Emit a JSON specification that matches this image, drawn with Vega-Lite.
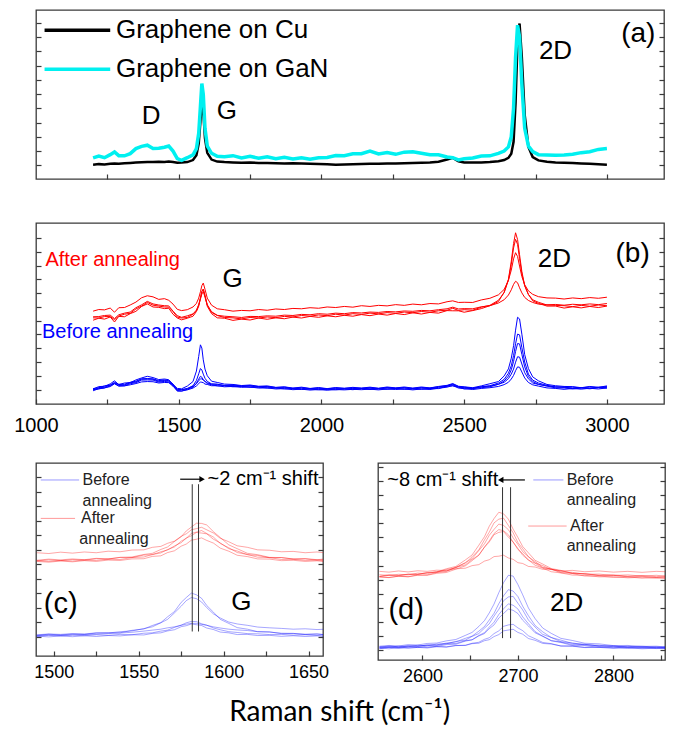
{
"$schema": "https://vega.github.io/schema/vega-lite/v6.json",
"padding": {"left": 13, "top": 9, "right": 4, "bottom": 2},
"background": "white",
"title": {"text": "Raman shift (cm⁻¹)", "orient": "bottom", "anchor": "middle", "font": "Lato", "fontSize": 28, "fontWeight": "normal", "color": "black", "offset": 13},
"config": {
  "view": {"stroke": "#3a3a3a", "strokeWidth": 1.3},
  "axis": {"grid": false, "domain": false, "tickColor": "#3a3a3a", "tickWidth": 1.2, "tickSize": -5, "labelFont": "Liberation Sans", "labelFontSize": 18, "labelColor": "black", "labelPadding": 12.5, "labelFlush": false},
  "text": {"font": "Liberation Sans", "color": "black"}
},
"spacing": 25,
"resolve": {"scale": {"color": "independent", "strokeWidth": "independent"}},
"vconcat": [
{
"width": 628, "height": 169,
"resolve": {"axis": {"y": "independent"}},
"layer": [
{
"data": {"values": [{
"x": [1200,1220,1240,1260,1275,1290,1310,1330,1350,1370,1390,1410,1430,1450,1465,1480,1495,1510,1530,1550,1562,1570,1576,1581,1586,1592,1600,1615,1635,1660,1690,1720,1750,1780,1810,1840,1870,1900,1930,1960,1990,2020,2050,2080,2110,2140,2170,2200,2230,2260,2290,2320,2350,2380,2410,2440,2460,2480,2500,2530,2560,2590,2620,2640,2655,2665,2673,2680,2687,2694,2702,2712,2725,2740,2760,2790,2820,2850,2880,2910,2940,2970,3000],
"Graphene on Cu": [8.5,8.8,8.6,9.0,9.2,9.0,9.3,9.5,9.7,9.9,10.1,10.0,10.2,10.1,10.3,10.0,9.6,9.7,10.0,11.2,14.0,21.0,34.0,45.5,40.0,24.0,15.5,11.5,10.3,10.0,9.8,9.6,9.7,9.5,9.4,9.3,9.2,9.3,9.1,9.0,8.9,8.7,8.5,8.6,8.7,8.9,9.0,9.0,9.1,9.2,9.3,9.4,9.6,9.8,10.2,11.5,12.5,10.5,9.8,9.7,9.8,10.0,10.5,11.2,12.5,15.0,22.0,45.0,82.0,92.0,72.0,38.0,19.0,13.0,11.0,10.2,9.8,9.6,9.4,9.2,9.0,8.7,8.4],
"Graphene on GaN": [12.5,13.6,12.6,14.4,16.0,13.8,13.7,15.0,18.0,19.3,20.0,18.0,18.2,18.8,19.5,16.5,12.0,11.0,12.6,14.3,18.0,27.0,43.0,56.5,50.0,30.0,19.5,15.2,13.4,13.2,13.8,12.5,13.4,12.3,13.1,12.0,12.8,11.8,12.6,11.7,12.6,12.7,13.9,13.8,14.9,15.0,16.5,14.8,15.7,14.6,15.9,16.1,15.2,14.3,14.3,13.0,12.6,11.3,12.0,12.4,13.6,13.7,15.2,16.5,19.0,25.0,42.0,72.0,91.0,84.0,56.0,30.0,19.5,16.2,14.4,14.2,14.1,14.2,14.6,15.6,16.1,17.5,18.0]
}]},
"transform": [{"flatten": ["x", "Graphene on Cu", "Graphene on GaN"]}, {"fold": ["Graphene on Cu", "Graphene on GaN"], "as": ["s", "y"]}],
"mark": {"type": "line", "clip": true},
"encoding": {
"x": {"field": "x", "type": "quantitative", "scale": {"domain": [1000, 3200], "nice": false, "zero": false}, "axis": {"title": null, "format": "d", "labelOpacity": 0, "labelFontSize": 14, "labelPadding": 8, "values": [1250,1500,1750,2000,2250,2500,2750,3000]}},
"y": {"field": "y", "type": "quantitative", "scale": {"domain": [0, 100], "nice": false, "zero": false}, "axis": {"orient": "left", "title": null, "labels": false, "values": [8,16.45,24.9,33.35,41.8,50.25,58.7,67.15,75.6,84.05,92.5]}},
"color": {"field": "s", "type": "nominal", "scale": {"domain": ["Graphene on Cu", "Graphene on GaN"], "range": ["#000000", "#00f0f0"]}, "legend": null},
"strokeWidth": {"field": "s", "type": "nominal", "scale": {"domain": ["Graphene on Cu", "Graphene on GaN"], "range": [2.5, 3.5]}, "legend": null}
}
},
{"data": {"values": [{}]}, "mark": {"type": "rule", "opacity": 0}, "encoding": {"y": {"datum": 50, "axis": {"orient": "right", "title": null, "labels": false, "values": [8,16.45,24.9,33.35,41.8,50.25,58.7,67.15,75.6,84.05,92.5]}}}},
{"data": {"values": [{}]}, "mark": {"type": "rule", "color": "#000000", "strokeWidth": 3.5}, "encoding": {"x": {"datum": 1030}, "x2": {"datum": 1260}, "y": {"datum": 88, "axis": null}}},
{"data": {"values": [{}]}, "mark": {"type": "rule", "color": "#00f0f0", "strokeWidth": 3.5}, "encoding": {"x": {"datum": 1030}, "x2": {"datum": 1260}, "y": {"datum": 65, "axis": null}}},
{"data": {"values": [{}]}, "mark": {"type": "text", "text": "Graphene on Cu", "fontSize": 26, "align": "left"}, "encoding": {"x": {"datum": 1280}, "y": {"datum": 88, "axis": null}}},
{"data": {"values": [{}]}, "mark": {"type": "text", "text": "Graphene on GaN", "fontSize": 26, "align": "left"}, "encoding": {"x": {"datum": 1280}, "y": {"datum": 65, "axis": null}}},
{"data": {"values": [{}]}, "mark": {"type": "text", "text": "D", "fontSize": 26}, "encoding": {"x": {"datum": 1403}, "y": {"datum": 37.3, "axis": null}}},
{"data": {"values": [{}]}, "mark": {"type": "text", "text": "G", "fontSize": 26}, "encoding": {"x": {"datum": 1669}, "y": {"datum": 40, "axis": null}}},
{"data": {"values": [{}]}, "mark": {"type": "text", "text": "2D", "fontSize": 26}, "encoding": {"x": {"datum": 2820}, "y": {"datum": 76, "axis": null}}},
{"data": {"values": [{}]}, "mark": {"type": "text", "text": "(a)", "fontSize": 28}, "encoding": {"x": {"datum": 3110}, "y": {"datum": 86, "axis": null}}}
]
},
{
"width": 628, "height": 181,
"resolve": {"axis": {"y": "independent"}},
"layer": [
{
"data": {"values": [{
"x": [1200,1220,1240,1260,1275,1290,1310,1330,1350,1370,1390,1410,1430,1450,1465,1480,1495,1510,1530,1550,1562,1570,1576,1581,1586,1592,1600,1615,1635,1660,1690,1720,1750,1780,1810,1840,1870,1900,1930,1960,1990,2020,2050,2080,2110,2140,2170,2200,2230,2260,2290,2320,2350,2380,2410,2440,2460,2480,2500,2530,2560,2590,2620,2640,2655,2665,2673,2680,2687,2694,2702,2712,2725,2740,2760,2790,2820,2850,2880,2910,2940,2970,3000],
"rb1": [51.3,52.2,52.0,53.0,50.7,53.2,53.3,54.7,56.3,58.7,59.8,59.2,57.8,58.2,57.3,55.2,52.3,51.6,52.1,53.6,55.6,58.5,62.0,65.4,66.8,63.4,58.5,54.6,52.6,52.1,51.3,51.7,51.5,52.2,51.8,52.5,52.2,52.8,52.6,53.2,52.9,53.6,53.3,53.9,53.5,54.3,53.9,54.5,54.2,54.9,54.5,55.2,54.8,55.5,55.3,56.5,57.0,56.1,56.2,56.1,57.5,58.4,60.3,63.3,68.3,74.0,80.2,83.6,81.5,76.2,70.4,65.9,62.5,60.6,59.3,58.6,58.5,58.0,58.6,58.2,58.8,58.4,59.0],
"rb2": [46.3,47.4,46.9,48.1,45.3,48.4,48.2,49.9,51.2,53.9,55.3,53.6,53.4,52.7,52.9,49.6,47.5,46.5,47.4,48.5,51.1,54.0,58.4,62.2,63.5,59.8,54.0,49.9,47.6,47.4,46.2,46.9,46.4,47.5,46.8,47.6,47.1,48.0,47.5,48.4,47.9,48.7,48.2,49.0,48.5,49.4,48.8,49.7,49.1,50.0,49.4,50.4,49.7,50.6,50.2,51.6,51.5,51.5,50.7,51.6,52.7,54.3,56.6,61.8,68.9,78.9,88.7,94.6,90.9,82.5,73.2,65.4,60.5,57.0,55.6,54.1,54.1,53.0,53.7,53.1,53.9,53.3,54.1],
"rb3": [47.6,47.5,48.3,48.3,46.6,48.6,49.6,50.1,52.5,54.1,56.1,54.6,54.1,53.6,53.5,51.1,48.0,47.5,47.8,49.6,51.4,55.0,58.6,62.2,63.4,60.0,54.9,50.6,48.9,47.8,47.6,47.0,47.8,47.5,48.1,47.7,48.4,48.1,48.9,48.5,49.2,48.8,49.6,49.1,49.9,49.5,50.2,49.8,50.5,50.1,50.8,50.4,51.1,50.7,51.5,51.8,52.9,51.7,52.1,51.8,53.5,54.5,57.3,61.5,68.5,77.1,86.2,91.0,88.2,80.3,72.0,65.3,60.5,57.6,56.2,54.7,54.5,54.3,53.8,54.5,54.0,54.7,54.3],
"rb4": [48.2,48.3,48.9,49.1,47.2,49.3,50.2,50.8,53.2,54.8,56.7,55.3,54.7,54.3,54.2,51.3,48.8,47.9,48.7,49.8,51.9,54.6,57.9,60.7,62.1,59.0,54.6,51.0,49.0,48.5,48.2,47.8,48.4,48.3,48.7,48.5,49.1,48.9,49.5,49.3,49.9,49.6,50.2,49.9,50.5,50.3,50.8,50.6,51.1,50.9,51.4,51.2,51.7,51.5,52.1,52.6,53.5,52.5,52.7,52.6,53.7,54.3,55.8,57.6,60.2,63.1,66.1,67.8,67.0,64.2,61.4,58.9,57.2,56.1,55.2,54.8,55.0,54.6,55.1,54.8,55.3,54.9,55.5],
"bb1": [8.3,9.6,9.8,11.1,12.8,10.7,11.6,11.8,13.3,14.4,15.3,14.6,13.5,13.8,13.4,10.8,8.6,8.4,9.9,12.4,18.2,26.3,32.7,30.9,24.4,19.3,15.6,12.6,11.9,11.0,10.8,10.2,10.5,9.8,10.0,9.2,9.5,8.8,9.3,8.6,9.1,8.5,9.1,8.7,9.2,8.8,9.3,8.7,9.4,8.9,9.4,8.8,9.4,8.9,9.7,10.3,11.3,9.8,9.5,9.0,10.0,11.2,12.4,15.5,19.4,25.3,32.2,40.8,47.9,47.0,38.6,27.3,19.6,15.0,12.8,10.8,10.1,9.7,9.6,9.0,9.7,9.2,10.0],
"bb2": [7.8,8.9,9.3,10.5,11.6,10.7,10.5,11.7,12.2,13.7,13.8,13.7,12.5,13.0,12.6,10.6,7.6,7.8,8.6,10.1,13.0,16.7,19.6,18.8,16.5,14.2,12.5,11.1,10.9,10.1,10.2,9.7,9.9,9.3,9.4,8.8,9.0,8.4,8.7,8.2,8.5,8.1,8.5,8.3,8.6,8.4,8.7,8.3,8.8,8.5,8.8,8.3,8.8,8.5,9.2,9.8,10.7,9.3,9.0,8.5,9.5,10.1,11.6,13.6,17.0,21.1,26.8,33.3,38.6,38.2,31.2,23.2,16.5,13.2,11.6,10.3,9.4,9.4,8.6,9.1,8.7,9.3,9.0],
"bb3": [7.9,8.3,9.0,9.6,11.2,9.8,10.0,10.6,11.3,12.2,12.4,12.3,11.6,11.9,11.8,9.8,7.4,7.1,8.1,9.3,11.5,13.7,15.3,14.8,13.4,12.5,11.3,10.6,10.0,10.1,9.5,9.8,9.2,9.4,8.8,8.9,8.3,8.5,8.0,8.3,7.8,8.2,7.8,8.3,7.9,8.5,8.0,8.4,8.1,8.6,8.1,8.4,8.1,8.6,8.5,9.9,10.0,9.4,8.3,8.6,9.0,9.5,10.9,12.7,15.4,18.9,23.5,29.0,33.4,33.2,27.4,20.5,15.2,12.4,10.9,9.9,8.9,8.9,8.3,8.8,8.4,9.0,8.8],
"bb4": [8.5,9.0,10.0,10.4,12.0,10.9,10.9,12.0,12.6,13.9,14.1,13.9,12.9,13.3,12.9,11.0,8.0,8.0,8.4,9.8,11.2,12.9,13.8,13.9,13.2,12.5,11.7,11.0,10.9,10.3,10.5,10.0,10.2,9.6,9.7,9.1,9.3,8.7,9.0,8.5,8.8,8.4,8.8,8.6,8.9,8.7,9.0,8.6,9.1,8.8,9.1,8.6,9.1,8.8,9.5,10.1,11.0,9.6,9.3,8.8,9.5,9.9,10.9,12.0,14.0,16.5,19.3,23.1,26.1,25.9,22.1,17.3,13.9,11.6,10.8,10.0,9.5,9.2,9.3,8.9,9.4,9.1,9.7],
"bb5": [7.3,8.5,8.8,10.0,11.3,10.2,10.1,11.2,11.8,13.2,13.3,13.2,12.1,12.5,12.1,10.2,7.1,7.2,7.8,8.8,10.0,11.2,12.2,12.0,11.8,11.0,10.8,10.1,10.1,9.5,9.7,9.2,9.4,8.8,8.9,8.3,8.5,7.9,8.2,7.7,8.0,7.6,8.0,7.8,8.1,7.9,8.2,7.8,8.3,8.0,8.3,7.8,8.3,8.0,8.7,9.3,10.2,8.8,8.5,8.0,8.6,9.0,9.7,10.7,12.0,13.8,15.8,18.4,20.5,20.3,17.7,14.4,11.9,10.6,9.9,8.9,8.6,8.1,8.6,8.2,8.7,8.3,8.9]
}]},
"transform": [{"flatten": ["x","rb1","rb2","rb3","rb4","bb1","bb2","bb3","bb4","bb5"]}, {"fold": ["rb1","rb2","rb3","rb4","bb1","bb2","bb3","bb4","bb5"], "as": ["s", "y"]}],
"mark": {"type": "line", "strokeWidth": 1, "clip": true},
"encoding": {
"x": {"field": "x", "type": "quantitative", "scale": {"domain": [1000, 3200], "nice": false, "zero": false}, "axis": {"title": null, "format": "d", "labelFontSize": 20, "labelPadding": 16.5, "values": [1000,1250,1500,1750,2000,2250,2500,2750,3000], "labelExpr": "datum.value % 500 == 0 ? datum.label : ''"}},
"y": {"field": "y", "type": "quantitative", "scale": {"domain": [0, 100], "nice": false, "zero": false}, "axis": {"orient": "left", "title": null, "labels": false, "values": [7.8,15.4,23.1,30.7,38.4,46,53.6,61.3,68.9,76.5,84.2,91.8]}},
"color": {"field": "s", "type": "nominal", "scale": {"domain": ["rb1","rb2","rb3","rb4","bb1","bb2","bb3","bb4","bb5"], "range": ["#ff0000","#ff0000","#ff0000","#ff0000","#0000ff","#0000ff","#0000ff","#0000ff","#0000ff"]}, "legend": null}
}
},
{"data": {"values": [{}]}, "mark": {"type": "rule", "opacity": 0}, "encoding": {"y": {"datum": 50, "axis": {"orient": "right", "title": null, "labels": false, "values": [7.8,15.4,23.1,30.7,38.4,46,53.6,61.3,68.9,76.5,84.2,91.8]}}}},
{"data": {"values": [{}]}, "mark": {"type": "text", "text": "After annealing", "fontSize": 20, "align": "left", "color": "#ff0000"}, "encoding": {"x": {"datum": 1033}, "y": {"datum": 79.8, "axis": null}}},
{"data": {"values": [{}]}, "mark": {"type": "text", "text": "Before annealing", "fontSize": 20, "align": "left", "color": "#0000ff"}, "encoding": {"x": {"datum": 1021}, "y": {"datum": 39.8, "axis": null}}},
{"data": {"values": [{}]}, "mark": {"type": "text", "text": "G", "fontSize": 26}, "encoding": {"x": {"datum": 1689}, "y": {"datum": 69, "axis": null}}},
{"data": {"values": [{}]}, "mark": {"type": "text", "text": "2D", "fontSize": 26}, "encoding": {"x": {"datum": 2816}, "y": {"datum": 80, "axis": null}}},
{"data": {"values": [{}]}, "mark": {"type": "text", "text": "(b)", "fontSize": 28}, "encoding": {"x": {"datum": 3090}, "y": {"datum": 82.7, "axis": null}}}
]
},
{
"spacing": 46,
"resolve": {"scale": {"color": "independent"}},
"hconcat": [
{
"width": 287, "height": 193,
"resolve": {"axis": {"y": "independent"}},
"layer": [
{
"data": {"values": [{
"x": [1490,1497,1504,1511,1518,1525,1532,1539,1546,1553,1558,1563,1567,1571,1575,1578,1581,1584,1587,1590,1594,1598,1603,1608,1614,1620,1627,1634,1641,1648,1655,1660],
"cb1": [10.7,11.3,10.9,11.4,11.2,11.9,12.1,12.0,13.3,14.0,15.8,17.3,20.3,23.0,27.8,30.3,32.6,31.7,29.9,26.2,22.7,19.0,16.9,14.7,13.9,12.6,12.5,11.6,11.7,11.1,11.4,11.0],
"cb2": [11.0,11.4,11.2,11.6,11.4,12.0,11.9,12.6,13.0,14.2,15.1,17.2,19.0,22.3,25.8,28.7,30.3,29.7,28.0,25.1,21.8,19.7,17.6,16.6,15.9,15.0,14.6,14.3,13.9,14.1,13.7,13.9],
"cb3": [10.2,10.7,10.4,10.8,10.5,11.0,10.7,11.2,11.0,11.8,12.0,12.9,13.4,14.8,16.0,17.2,17.9,17.8,16.7,16.0,14.5,13.6,12.6,12.2,11.6,11.5,11.1,11.2,10.8,11.0,10.6,10.9],
"cb4": [10.3,9.9,10.4,10.0,10.5,10.1,10.6,10.4,11.0,10.9,11.7,12.0,13.0,13.6,15.2,15.7,16.6,16.2,15.8,14.5,13.7,12.4,12.0,11.1,11.2,10.6,10.7,10.2,10.5,10.1,10.4,10.0],
"cb5": [10.5,10.9,10.7,11.0,11.1,11.3,11.6,11.9,12.3,12.9,13.4,13.9,14.6,15.1,15.9,16.5,16.9,16.9,16.4,15.9,15.1,14.5,13.9,13.5,13.2,12.6,12.4,11.8,11.7,11.3,11.4,11.0],
"cr1": [53.5,53.1,53.8,53.3,53.9,53.5,54.3,54.0,54.9,55.0,56.3,56.8,58.4,59.5,62.0,63.3,65.4,66.0,66.7,65.4,63.7,61.0,59.2,57.1,56.3,55.0,54.8,54.0,54.2,53.5,53.9,53.4],
"cr2": [49.3,49.8,49.4,50.0,49.7,50.4,50.2,51.1,51.3,52.6,53.2,55.2,56.5,59.3,61.8,64.8,66.8,68.8,68.7,67.9,64.4,61.4,57.6,55.6,53.2,52.5,51.1,51.0,50.2,50.3,49.7,50.0],
"cr3": [49.6,50.2,49.8,50.3,49.9,50.6,50.3,51.1,51.0,52.3,52.5,54.0,54.9,57.0,58.7,61.1,62.3,64.0,63.7,63.3,60.5,58.6,55.6,54.4,52.5,52.1,50.9,51.0,50.3,50.5,49.9,50.3],
"cr4": [49.0,48.6,49.2,48.8,49.4,49.0,49.7,49.5,50.3,50.4,51.6,51.9,53.6,54.5,56.9,58.0,60.0,60.5,61.2,59.9,58.5,55.9,54.3,52.2,51.5,50.3,50.2,49.4,49.6,49.0,49.3,48.8],
"cr5": [49.4,49.0,49.5,49.2,49.7,49.5,50.2,50.0,51.0,51.3,52.6,53.4,55.2,56.5,59.5,61.0,63.5,64.2,65.0,63.5,61.6,58.3,56.1,53.6,52.6,51.2,51.0,50.0,50.1,49.5,49.7,49.3]
}]},
"transform": [{"flatten": ["x","cb1","cb2","cb3","cb4","cb5","cr1","cr2","cr3","cr4","cr5"]}, {"fold": ["cb1","cb2","cb3","cb4","cb5","cr1","cr2","cr3","cr4","cr5"], "as": ["s", "y"]}],
"mark": {"type": "line", "strokeWidth": 1, "opacity": 0.35, "clip": true},
"encoding": {
"x": {"field": "x", "type": "quantitative", "scale": {"domain": [1489.5, 1658.5], "nice": false, "zero": false}, "axis": {"title": null, "format": "d", "values": [1500,1525,1550,1575,1600,1625,1650], "labelExpr": "datum.value % 50 == 0 ? datum.label : ''"}},
"y": {"field": "y", "type": "quantitative", "scale": {"domain": [0, 100], "nice": false, "zero": false}, "axis": {"orient": "left", "title": null, "labels": false, "values": [10.1,17.6,25.1,32.6,40.1,47.6,55.1,62.6,70.1,77.6,85.1,92.6]}},
"color": {"field": "s", "type": "nominal", "scale": {"domain": ["cb1","cb2","cb3","cb4","cb5","cr1","cr2","cr3","cr4","cr5"], "range": ["#0000ff","#0000ff","#0000ff","#0000ff","#0000ff","#ff0000","#ff0000","#ff0000","#ff0000","#ff0000"]}, "legend": null}
}
},
{"data": {"values": [{}]}, "mark": {"type": "rule", "opacity": 0}, "encoding": {"y": {"datum": 50, "axis": {"orient": "right", "title": null, "labels": false, "values": [10.1,17.6,25.1,32.6,40.1,47.6,55.1,62.6,70.1,77.6,85.1,92.6]}}}},
{"data": {"values": [{}]}, "mark": {"type": "rule", "color": "#0000ff", "opacity": 0.4, "strokeWidth": 1}, "encoding": {"x": {"datum": 1492.3}, "x2": {"datum": 1514.9}, "y": {"datum": 91.2, "axis": null}}},
{"data": {"values": [{}]}, "mark": {"type": "rule", "color": "#ff0000", "opacity": 0.4, "strokeWidth": 1}, "encoding": {"x": {"datum": 1492.3}, "x2": {"datum": 1512.5}, "y": {"datum": 71.3, "axis": null}}},
{"data": {"values": [{}]}, "mark": {"type": "text", "text": "Before", "fontSize": 16, "align": "left", "color": "#222"}, "encoding": {"x": {"datum": 1516.9}, "y": {"datum": 91.2, "axis": null}}},
{"data": {"values": [{}]}, "mark": {"type": "text", "text": "annealing", "fontSize": 16, "align": "left", "color": "#222"}, "encoding": {"x": {"datum": 1516.9}, "y": {"datum": 80.2, "axis": null}}},
{"data": {"values": [{}]}, "mark": {"type": "text", "text": "After", "fontSize": 16, "align": "left", "color": "#222"}, "encoding": {"x": {"datum": 1516}, "y": {"datum": 71.3, "axis": null}}},
{"data": {"values": [{}]}, "mark": {"type": "text", "text": "annealing", "fontSize": 16, "align": "left", "color": "#222"}, "encoding": {"x": {"datum": 1515}, "y": {"datum": 60.5, "axis": null}}},
{"data": {"values": [{}]}, "mark": {"type": "rule", "color": "#333333", "strokeWidth": 1}, "encoding": {"x": {"datum": 1581.5}, "y": {"datum": 12.7, "axis": null}, "y2": {"datum": 89}}},
{"data": {"values": [{}]}, "mark": {"type": "rule", "color": "#333333", "strokeWidth": 1}, "encoding": {"x": {"datum": 1585.2}, "y": {"datum": 12.7, "axis": null}, "y2": {"datum": 89}}},
{"data": {"values": [{}]}, "mark": {"type": "rule", "color": "#000000", "strokeWidth": 1.2}, "encoding": {"x": {"datum": 1574.4}, "x2": {"datum": 1586.5}, "y": {"datum": 91.6, "axis": null}}},
{"data": {"values": [{}]}, "mark": {"type": "point", "shape": "triangle-right", "size": 40, "filled": true, "color": "#000000", "opacity": 1}, "encoding": {"x": {"datum": 1587.3}, "y": {"datum": 91.6, "axis": null}}},
{"data": {"values": [{}]}, "mark": {"type": "text", "text": "~2 cm⁻¹ shift", "fontSize": 20, "align": "left"}, "encoding": {"x": {"datum": 1590.5}, "y": {"datum": 91.6, "axis": null}}},
{"data": {"values": [{}]}, "mark": {"type": "text", "text": "(c)", "fontSize": 29}, "encoding": {"x": {"datum": 1504}, "y": {"datum": 27, "axis": null}}},
{"data": {"values": [{}]}, "mark": {"type": "text", "text": "G", "fontSize": 26}, "encoding": {"x": {"datum": 1610.4}, "y": {"datum": 27.9, "axis": null}}}
]
},
{
"width": 287, "height": 197,
"resolve": {"axis": {"y": "independent"}},
"layer": [
{
"data": {"values": [{
"x": [2555,2565,2575,2585,2595,2605,2615,2625,2635,2645,2652,2659,2665,2670,2675,2680,2685,2690,2695,2700,2705,2711,2718,2726,2735,2745,2757,2770,2785,2800,2815,2830,2845,2855],
"db1": [7.0,7.4,7.1,7.8,7.6,8.4,8.6,9.7,10.4,12.5,14.0,17.0,20.0,23.9,28.4,34.2,39.3,43.0,42.6,38.3,33.1,26.4,21.0,16.2,13.5,11.0,9.9,8.5,8.2,7.3,7.4,6.9,7.0,6.6],
"db2": [6.3,6.8,6.5,7.1,7.0,7.6,7.7,8.6,9.2,11.0,12.1,14.6,17.0,20.3,23.7,28.6,32.6,35.7,35.0,32.2,27.3,22.5,17.5,14.3,11.4,10.1,8.4,8.0,7.1,7.1,6.4,6.7,6.1,6.5],
"db3": [6.8,6.4,7.1,6.7,7.5,7.2,8.1,8.2,9.4,10.1,12.0,13.4,16.2,18.4,22.3,25.7,30.1,32.0,32.3,28.8,25.4,20.3,16.7,13.0,11.4,9.3,8.7,7.6,7.5,6.7,7.0,6.4,6.7,6.2],
"db4": [5.7,6.4,6.0,6.6,6.3,7.1,6.9,7.8,8.0,9.6,10.2,12.4,13.9,16.7,19.2,23.1,26.0,28.5,27.8,25.9,21.9,18.4,14.4,12.1,9.7,8.9,7.4,7.3,6.4,6.6,5.9,6.3,5.8,6.0],
"db5": [6.5,7.1,6.7,7.3,7.0,7.6,7.4,8.3,8.4,9.8,10.3,12.2,13.4,15.9,17.8,21.3,23.6,25.9,25.2,23.6,20.2,17.3,13.8,12.0,9.9,9.1,7.9,7.9,7.1,7.2,6.7,7.0,6.5,6.8],
"db6": [6.1,5.7,6.3,5.9,6.4,6.1,6.7,6.5,7.3,7.5,8.5,9.0,10.5,11.3,13.4,14.8,17.1,17.8,18.1,16.3,14.9,12.3,10.8,8.9,8.3,7.1,7.0,6.3,6.4,5.9,6.2,5.7,6.0,5.8],
"db7": [6.0,6.6,6.1,6.5,6.7,6.3,7.0,6.7,7.4,7.4,8.3,8.5,9.8,10.3,11.9,12.9,14.8,15.2,15.6,14.0,13.1,10.9,10.0,8.4,8.1,7.1,7.1,6.4,6.7,6.2,6.5,6.0,6.4,6.1],
"dr1": [42.3,43.0,42.7,43.5,43.4,44.4,44.7,46.3,47.5,50.8,53.3,58.2,62.6,67.9,71.8,75.0,74.2,71.5,66.4,62.2,57.6,54.4,50.6,48.7,46.4,45.5,44.0,43.8,42.8,43.0,42.2,42.5,41.9,42.2],
"dr2": [42.2,41.8,42.6,42.3,43.2,43.2,44.4,44.9,47.1,49.2,52.4,55.9,61.0,64.9,69.6,71.5,72.0,68.3,64.6,59.6,56.5,52.4,50.0,47.1,46.1,44.3,43.9,42.6,42.7,41.9,42.2,41.5,41.9,41.4],
"dr3": [42.5,43.3,42.9,43.6,43.5,44.4,44.5,45.9,46.8,49.5,51.4,55.5,59.0,63.3,66.3,69.0,68.3,66.2,62.0,58.7,55.0,52.4,49.3,47.9,45.9,45.3,44.0,43.9,43.0,43.2,42.5,42.9,42.3,42.7],
"dr4": [42.2,41.9,42.5,42.2,43.0,43.0,44.0,44.4,46.1,47.8,50.4,53.2,57.3,60.5,64.2,66.2,65.6,63.6,59.8,56.6,53.2,50.8,48.1,46.6,44.8,44.2,43.1,43.0,42.2,42.3,41.7,42.0,41.5,41.8],
"dr5": [43.3,42.9,43.5,43.2,44.1,43.8,44.9,45.2,47.0,48.3,51.0,53.2,57.3,59.9,63.6,64.8,65.2,62.4,59.9,56.1,54.0,50.7,49.1,46.8,46.1,44.7,44.5,43.5,43.6,42.9,43.2,42.6,43.0,42.5],
"dr6": [45.0,44.6,45.2,44.7,45.3,45.0,45.6,45.4,46.3,46.6,47.9,48.4,50.2,50.9,52.5,52.7,53.2,51.8,51.1,49.4,49.0,47.5,47.2,46.0,46.1,45.2,45.5,44.8,45.2,44.6,45.0,44.5,45.0,44.8]
}]},
"transform": [{"flatten": ["x","db1","db2","db3","db4","db5","db6","db7","dr1","dr2","dr3","dr4","dr5","dr6"]}, {"fold": ["db1","db2","db3","db4","db5","db6","db7","dr1","dr2","dr3","dr4","dr5","dr6"], "as": ["s", "y"]}],
"mark": {"type": "line", "strokeWidth": 1, "opacity": 0.35, "clip": true},
"encoding": {
"x": {"field": "x", "type": "quantitative", "scale": {"domain": [2553.5, 2854], "nice": false, "zero": false}, "axis": {"title": null, "format": "d", "values": [2600,2650,2700,2750,2800,2850], "labelExpr": "datum.value % 100 == 0 ? datum.label : ''"}},
"y": {"field": "y", "type": "quantitative", "scale": {"domain": [0, 100], "nice": false, "zero": false}, "axis": {"orient": "left", "title": null, "labels": false, "values": [5.05,12.2,19.35,26.5,33.65,40.8,47.95,55.1,62.25,69.4,76.55,83.7,90.85,98]}},
"color": {"field": "s", "type": "nominal", "scale": {"domain": ["db1","db2","db3","db4","db5","db6","db7","dr1","dr2","dr3","dr4","dr5","dr6"], "range": ["#0000ff","#0000ff","#0000ff","#0000ff","#0000ff","#0000ff","#0000ff","#ff0000","#ff0000","#ff0000","#ff0000","#ff0000","#ff0000"]}, "legend": null}
}
},
{"data": {"values": [{}]}, "mark": {"type": "rule", "opacity": 0}, "encoding": {"y": {"datum": 50, "axis": {"orient": "right", "title": null, "labels": false, "values": [5.05,12.2,19.35,26.5,33.65,40.8,47.95,55.1,62.25,69.4,76.55,83.7,90.85,98]}}}},
{"data": {"values": [{}]}, "mark": {"type": "rule", "color": "#0000ff", "opacity": 0.4, "strokeWidth": 1}, "encoding": {"x": {"datum": 2716.1}, "x2": {"datum": 2747.6}, "y": {"datum": 91.4, "axis": null}}},
{"data": {"values": [{}]}, "mark": {"type": "rule", "color": "#ff0000", "opacity": 0.4, "strokeWidth": 1}, "encoding": {"x": {"datum": 2710.8}, "x2": {"datum": 2751}, "y": {"datum": 68, "axis": null}}},
{"data": {"values": [{}]}, "mark": {"type": "text", "text": "Before", "fontSize": 16, "align": "left", "color": "#222"}, "encoding": {"x": {"datum": 2751}, "y": {"datum": 91.4, "axis": null}}},
{"data": {"values": [{}]}, "mark": {"type": "text", "text": "annealing", "fontSize": 16, "align": "left", "color": "#222"}, "encoding": {"x": {"datum": 2751}, "y": {"datum": 81, "axis": null}}},
{"data": {"values": [{}]}, "mark": {"type": "text", "text": "After", "fontSize": 16, "align": "left", "color": "#222"}, "encoding": {"x": {"datum": 2754.5}, "y": {"datum": 68, "axis": null}}},
{"data": {"values": [{}]}, "mark": {"type": "text", "text": "annealing", "fontSize": 16, "align": "left", "color": "#222"}, "encoding": {"x": {"datum": 2751}, "y": {"datum": 57.7, "axis": null}}},
{"data": {"values": [{}]}, "mark": {"type": "rule", "color": "#333333", "strokeWidth": 1}, "encoding": {"x": {"datum": 2683.9}, "y": {"datum": 11.1, "axis": null}, "y2": {"datum": 87.7}}},
{"data": {"values": [{}]}, "mark": {"type": "rule", "color": "#333333", "strokeWidth": 1}, "encoding": {"x": {"datum": 2692.3}, "y": {"datum": 11.1, "axis": null}, "y2": {"datum": 87.7}}},
{"data": {"values": [{}]}, "mark": {"type": "rule", "color": "#000000", "strokeWidth": 1.2}, "encoding": {"x": {"datum": 2683}, "x2": {"datum": 2707.3}, "y": {"datum": 91.4, "axis": null}}},
{"data": {"values": [{}]}, "mark": {"type": "point", "shape": "triangle-left", "size": 40, "filled": true, "color": "#000000", "opacity": 1}, "encoding": {"x": {"datum": 2682}, "y": {"datum": 91.4, "axis": null}}},
{"data": {"values": [{}]}, "mark": {"type": "text", "text": "~8 cm⁻¹ shift", "fontSize": 20, "align": "right"}, "encoding": {"x": {"datum": 2679.4}, "y": {"datum": 91.4, "axis": null}}},
{"data": {"values": [{}]}, "mark": {"type": "text", "text": "(d)", "fontSize": 29}, "encoding": {"x": {"datum": 2583}, "y": {"datum": 25.4, "axis": null}}},
{"data": {"values": [{}]}, "mark": {"type": "text", "text": "2D", "fontSize": 26}, "encoding": {"x": {"datum": 2751}, "y": {"datum": 28.8, "axis": null}}}
]
}
]
}
]
}
